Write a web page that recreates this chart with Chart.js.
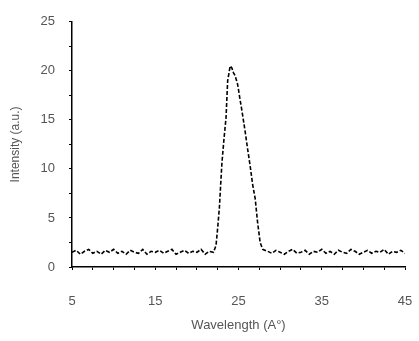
<!DOCTYPE html>
<html>
<head>
<meta charset="utf-8">
<script src="https://cdn.jsdelivr.net/npm/chart.js@4/dist/chart.umd.min.js"></script>
<style>
  html, body { margin: 0; padding: 0; background: #fff; }
  #wrap { width: 419px; height: 341px; }
</style>
</head>
<body>
<div id="wrap"><canvas id="spectrum"></canvas></div>
<script>
// wavelength (A°) and intensity (a.u.)
const wavelength = [
  5, 5.5, 6, 6.5, 7, 7.5, 8, 8.5, 9, 9.5, 10, 10.5, 11, 11.5, 12, 12.5, 13, 13.5,
  14, 14.5, 15, 15.5, 16, 16.5, 17, 17.5, 18, 18.5, 19, 19.5, 20, 20.5, 21, 21.5, 22,
  22.3, 22.5, 22.7, 23, 23.25, 23.5, 23.7, 24, 24.2, 24.4, 24.6, 24.9, 25.2, 25.4,
  25.8, 26.1, 26.4, 26.7, 27, 27.3, 27.6, 27.9,
  28.5, 29, 29.5, 30, 30.5, 31, 31.5, 32, 32.5, 33, 33.5, 34, 34.5, 35, 35.5, 36,
  36.5, 37, 37.5, 38, 38.5, 39, 39.5, 40, 40.5, 41, 41.5, 42, 42.5, 43, 43.5, 44, 44.5, 45
];
const intensity = [
  1.5, 1.7, 1.3, 1.6, 1.8, 1.4, 1.6, 1.3, 1.7, 1.5, 1.8, 1.4, 1.6, 1.3, 1.7, 1.5, 1.4, 1.8,
  1.3, 1.6, 1.5, 1.7, 1.4, 1.6, 1.8, 1.3, 1.5, 1.7, 1.4, 1.6, 1.5, 1.8, 1.3, 1.6, 1.5,
  2.2, 4, 6, 10.5, 13, 15.2, 19, 20.5, 20.3, 19.8, 19.5, 18.6, 17, 16,
  13.8, 12, 10.3, 8.4, 7, 4.5, 2.5, 1.8,
  1.6, 1.4, 1.7, 1.5, 1.3, 1.6, 1.8, 1.4, 1.5, 1.7, 1.3, 1.6, 1.5, 1.8, 1.4, 1.6,
  1.3, 1.7, 1.5, 1.4, 1.8, 1.6, 1.3, 1.5, 1.7, 1.4, 1.6, 1.5, 1.8, 1.3, 1.6, 1.5, 1.7, 1.4
];
const xLabels = [5, 15, 25, 35, 45];
const yLabels = [0, 5, 10, 15, 20, 25];

const points = wavelength.map(function(w, i) { return { x: w, y: intensity[i] }; });
const tickFont = { family: 'Liberation Sans, Arial, sans-serif', size: 13 };

new Chart(document.getElementById('spectrum').getContext('2d'), {
  type: 'line',
  data: {
    datasets: [{
      data: points,
      borderColor: '#000',
      borderWidth: 1.6,
      borderDash: [4, 2],
      pointRadius: 0,
      tension: 0,
      fill: false
    }]
  },
  options: {
    responsive: true,
    maintainAspectRatio: false,
    animation: false,
    layout: { padding: { top: 11, right: 14, bottom: 6, left: 4 } },
    plugins: { legend: { display: false }, tooltip: { enabled: false } },
    scales: {
      x: {
        type: 'linear',
        min: 5,
        max: 45,
        afterFit: function(scale) {
          scale.height = 68;
          scale.paddingLeft = 0;
          scale.paddingRight = 0;
        },
        ticks: {
          stepSize: 2.5,
          autoSkip: false,
          maxRotation: 0,
          color: '#555',
          font: tickFont,
          padding: 24,
          callback: function(v) { return xLabels.includes(v) ? String(v) : ''; }
        },
        grid: { drawOnChartArea: false, tickLength: 3, color: '#000' },
        border: { color: '#000', width: 1.5 },
        title: { display: true, text: 'Wavelength (A°)', color: '#555', font: tickFont, padding: { top: 4, bottom: 2 } }
      },
      y: {
        min: 0,
        max: 25,
        afterFit: function(scale) { scale.width = 68; },
        ticks: {
          stepSize: 2.5,
          autoSkip: false,
          color: '#555',
          font: tickFont,
          padding: 14,
          callback: function(v) { return yLabels.includes(v) ? String(v) : ''; }
        },
        grid: { drawOnChartArea: false, tickLength: 3, color: '#000' },
        border: { color: '#000', width: 1.5 },
        title: { display: true, text: 'Intensity (a.u.)', color: '#555', font: { family: tickFont.family, size: 12 }, padding: 4 }
      }
    }
  }
});
</script>
</body>
</html>
